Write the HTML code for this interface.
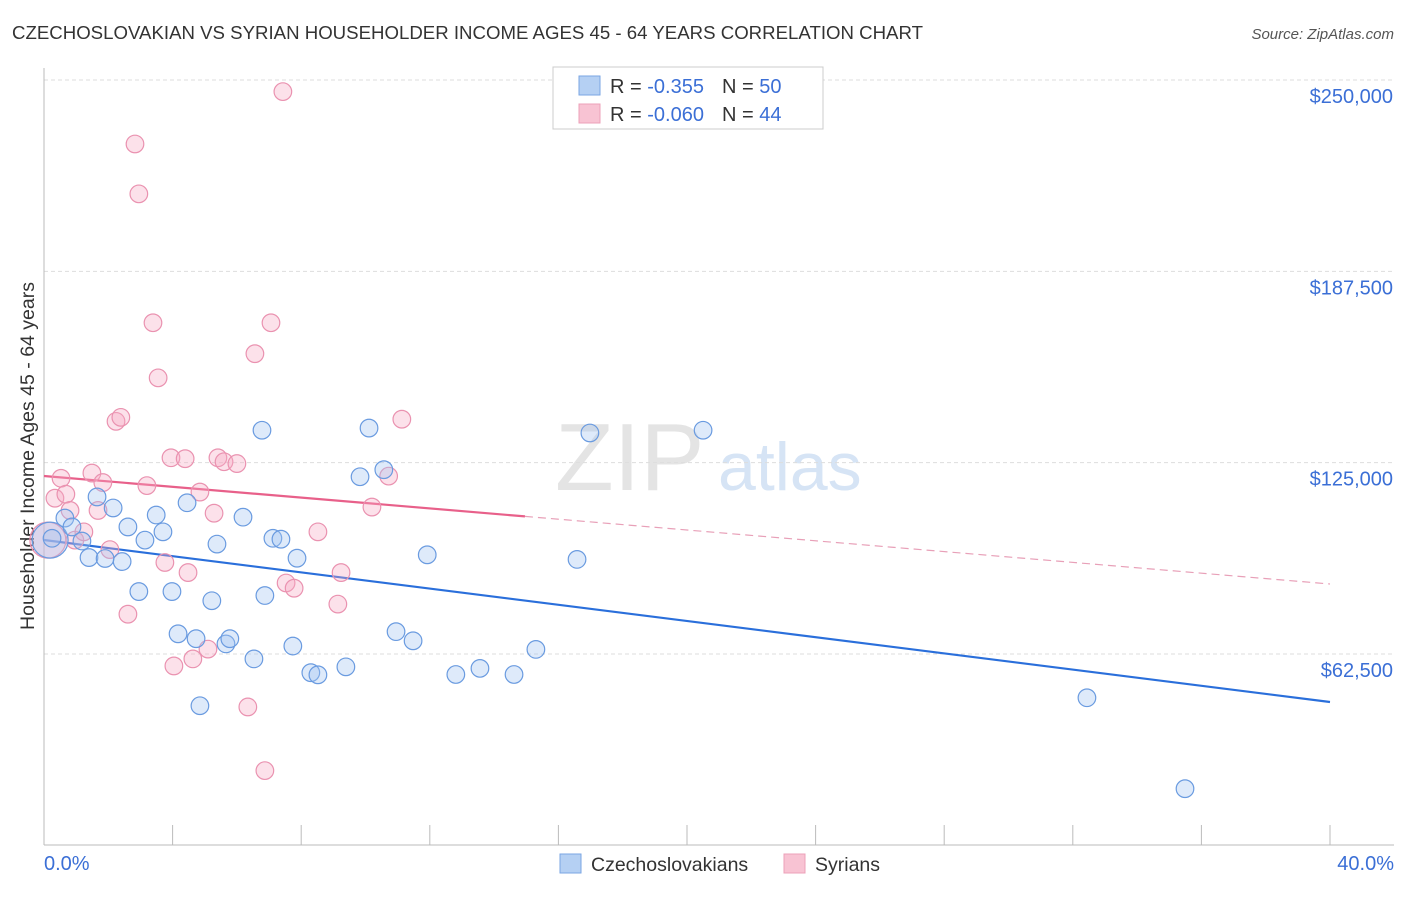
<!DOCTYPE html>
<html><head><meta charset="utf-8"><style>
body{margin:0;background:#fff;font-family:"Liberation Sans",sans-serif;}
svg text{font-family:"Liberation Sans",sans-serif;}
</style></head><body>
<svg id="chart" width="1406" height="892" xmlns="http://www.w3.org/2000/svg">
<text x="12" y="39" font-size="18" fill="#333" textLength="911" lengthAdjust="spacingAndGlyphs">CZECHOSLOVAKIAN VS SYRIAN HOUSEHOLDER INCOME AGES 45 - 64 YEARS CORRELATION CHART</text>
<text x="1394" y="39" font-size="15" fill="#555" text-anchor="end" font-style="italic">Source: ZipAtlas.com</text>
<text x="555" y="490" font-size="96" fill="#e4e4e4" font-family="Liberation Serif">ZIP</text>
<text x="718" y="490" font-size="68" fill="#d6e4f5">atlas</text>
<g id="grid"></g>
<line x1="44" y1="68" x2="44" y2="845" stroke="#bbb"/>
<line x1="44" y1="845" x2="1394" y2="845" stroke="#bbb"/>
<g id="ticks"></g>
<text transform="translate(34,456) rotate(-90)" font-size="19.5" fill="#333" text-anchor="middle">Householder Income Ages 45 - 64 years</text>
<text x="44" y="870" font-size="20" fill="#3b6fd6">0.0%</text>
<text x="1394" y="870" font-size="20" fill="#3b6fd6" text-anchor="end">40.0%</text>
<g id="lines"></g>
<g id="points"></g>
<g>
<rect x="553" y="67" width="270" height="62" fill="#fff" stroke="#ccc"/>
<rect x="579" y="76" width="21" height="19" fill="#b5d0f3" stroke="#7aa6e3"/>
<rect x="579" y="104" width="21" height="19" fill="#f8c3d3" stroke="#eca0b8"/>
<text x="610" y="93" font-size="20" fill="#333">R =  <tspan fill="#3b6fd6">-0.355</tspan><tspan dx="18">N = </tspan><tspan fill="#3b6fd6">50</tspan></text>
<text x="610" y="121" font-size="20" fill="#333">R = <tspan fill="#3b6fd6">-0.060</tspan><tspan dx="18">N = </tspan><tspan fill="#3b6fd6">44</tspan></text>
</g>
<g>
<rect x="560" y="854" width="21" height="19" fill="#b5d0f3" stroke="#7aa6e3"/>
<text x="591" y="871" font-size="19.5" fill="#333">Czechoslovakians</text>
</g>
<g>
<rect x="784" y="854" width="21" height="19" fill="#f8c3d3" stroke="#eca0b8"/>
<text x="815" y="871" font-size="19.5" fill="#333">Syrians</text>
</g>
</svg>
<script>
const yTicks=[62500,125000,187500,250000];
const yTickLabels=["$62,500","$125,000","$187,500","$250,000"];
const xTicks=[0,4,8,12,16,20,24,28,32,36,40];
const blueX=[0.19,0.65,0.87,1.18,1.65,1.4,1.9,2.15,2.43,2.61,2.95,3.14,3.49,3.7,3.98,4.17,4.45,4.73,4.85,5.22,5.38,5.66,5.78,6.19,6.53,6.78,6.87,7.12,7.37,7.74,7.87,8.3,8.52,9.39,9.83,10.11,10.57,10.95,11.48,11.92,12.81,13.56,14.62,15.3,16.58,16.98,20.5,32.44,35.49,0.25];
const blueY=[99700,106900,104000,99400,113800,94000,93700,110200,92700,104000,82900,99700,107900,102400,82900,69100,111900,67500,45600,79900,98400,65800,67500,107200,60900,135600,81600,100300,100000,65100,93800,56400,55700,58300,120400,136300,122700,69800,66800,94900,55800,57800,55800,64000,93400,134700,135600,48200,18500,100300];
const pinkX=[0.12,0.34,0.53,0.68,0.81,0.96,1.24,1.49,1.68,1.83,2.05,2.24,2.39,2.61,2.83,2.95,3.2,3.39,3.55,3.76,3.95,4.04,4.39,4.48,4.63,4.85,5.1,5.29,5.41,5.6,6.0,6.34,6.56,6.87,7.06,7.43,7.53,7.78,8.52,9.14,9.24,10.2,10.72,11.13];
const pinkY=[99700,113400,119900,114700,109400,99700,102400,121600,109400,118500,96600,138500,139800,75500,229100,212800,117500,170700,152700,92400,126600,58600,126300,89100,60900,115400,64100,108500,126600,125300,124700,45200,160600,24400,170700,246200,85700,84000,102400,78800,89100,110500,120600,139200];
const X0=44,X1=1330,Yb=654,Yt=80;
const xs=v=>X0+(v/40)*(X1-X0);
const ys=v=>Yb-(v-62500)/(250000-62500)*(Yb-Yt);
const NS="http://www.w3.org/2000/svg";
const mk=(t,a,p)=>{const e=document.createElementNS(NS,t);for(const k in a)e.setAttribute(k,a[k]);p.appendChild(e);return e;};
const grid=document.getElementById('grid');
yTicks.forEach((v,i)=>{
 const l=mk('line',{x1:44,x2:1394,y1:ys(v),y2:ys(v),stroke:'#ddd','stroke-dasharray':'4,3'},grid);
 
 
 const t=mk('text',{x:1393,y:ys(v)+23,'font-size':20,fill:'#3b6fd6','text-anchor':'end'},grid);
 t.textContent=yTickLabels[i];
 
 
});
const ticks=document.getElementById('ticks');
xTicks.forEach(v=>{
 const l=mk('line',{x1:xs(v),x2:xs(v),y1:825,y2:845,stroke:'#bbb'},ticks);
 
 
});
const lines=document.getElementById('lines');
const bInt=99740,bEnd=46820,pInt=120640,pEnd=85370,pSolidEnd=14.96;
let bl=mk('line',{x1:xs(0),y1:ys(bInt),x2:xs(40),y2:ys(bEnd),stroke:'#2a6fdb','stroke-width':2.2},lines);


const pm=pInt+(pEnd-pInt)*pSolidEnd/40;
let pl=mk('line',{x1:xs(0),y1:ys(pInt),x2:xs(pSolidEnd),y2:ys(pm),stroke:'#e8608a','stroke-width':2.2},lines);


let pd=mk('line',{x1:xs(pSolidEnd),y1:ys(pm),x2:xs(40),y2:ys(pEnd),stroke:'#e8a0b8','stroke-width':1.2,'stroke-dasharray':'8,5'},lines);


const pts=document.getElementById('points');
pinkX.forEach((x,i)=>{
 const c=mk('circle',{cx:xs(x),cy:ys(pinkY[i]),r:i==0?18:8.8,fill:'rgba(245,170,195,0.35)',stroke:'#ea92b0','stroke-width':1.2},pts);
 
 
});
blueX.forEach((x,i)=>{
 const c=mk('circle',{cx:xs(x),cy:ys(blueY[i]),r:i==0?18:8.8,fill:'rgba(160,195,240,0.35)',stroke:'#6a9be0','stroke-width':1.2},pts);
 
 
});
</script>
</body></html>
